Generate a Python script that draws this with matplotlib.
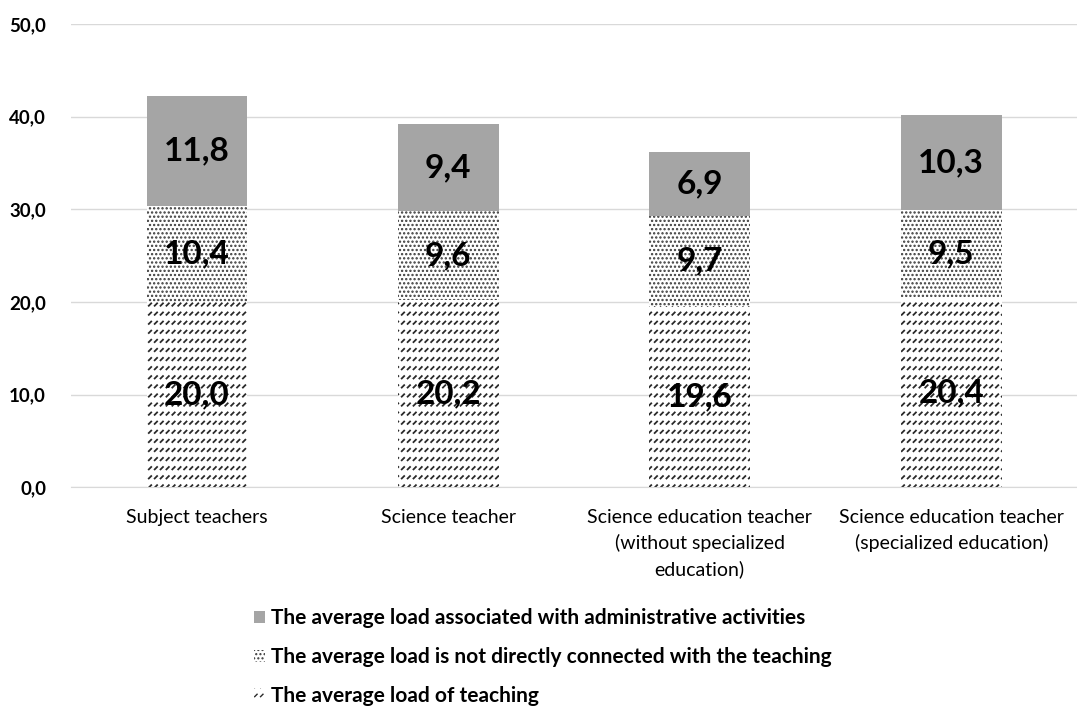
import matplotlib
matplotlib.use("Agg")
import matplotlib.pyplot as plt
import matplotlib.hatch as mhatch
from matplotlib.path import Path
import numpy as np
import warnings
warnings.filterwarnings("ignore")

plt.rcParams['font.family'] = ['Lato', 'DejaVu Sans']


class DashRowHatch(mhatch.HatchPatternBase):
    """Rows of short diagonal dashes (style only)."""
    def __init__(self, hatch, density):
        n = hatch.count('~')
        self.rows = 11 * n
        self.cols = 17 * n
        self.num_vertices = self.rows * self.cols * 2

    def set_vertices_and_codes(self, vertices, codes):
        ys = (np.arange(self.rows) + 0.5) / self.rows
        xs = (np.arange(self.cols) + 0.5) / self.cols
        gx, gy = np.meshgrid(xs, ys)
        gx = gx.ravel()
        gy = gy.ravel()
        d = 0.012
        vertices[0::2, 0] = gx - d
        vertices[0::2, 1] = gy - d
        vertices[1::2, 0] = gx + d
        vertices[1::2, 1] = gy + d
        codes[0::2] = Path.MOVETO
        codes[1::2] = Path.LINETO


mhatch._hatch_types.append(DashRowHatch)

categories = ["Subject teachers", "Science teacher",
              "Science education teacher\n(without specialized\neducation)",
              "Science education teacher\n(specialized education)"]
teaching = [20.0, 20.2, 19.6, 20.4]
not_direct = [10.4, 9.6, 9.7, 9.5]
admin = [11.8, 9.4, 6.9, 10.3]
yticks = [0, 10, 20, 30, 40, 50]
legend_labels = ["The average load associated with administrative activities",
                 "The average load is not directly connected with the teaching",
                 "The average load of teaching"]

fig = plt.figure(figsize=(10.77, 7.06), dpi=100)
ax = fig.add_axes([0.066, 0.31, 0.934, 0.656])

x = np.arange(len(categories))
w = 0.4
with plt.rc_context({'hatch.linewidth': 1.3}):
    b1 = ax.bar(x, teaching, w, color='white', edgecolor='#2a2a2a', hatch='~',
                linewidth=0, zorder=2)
with plt.rc_context({'hatch.linewidth': 1.1}):
    b2 = ax.bar(x, not_direct, w, bottom=teaching, color='white', edgecolor='#3a3a3a',
                hatch='....', linewidth=0, zorder=2)
bottom3 = np.array(teaching) + np.array(not_direct)
b3 = ax.bar(x, admin, w, bottom=bottom3, color='#A5A5A5', edgecolor='#A5A5A5',
            linewidth=0, zorder=2)


def fmt(v):
    return f"{v:.1f}".replace('.', ',')


for vals, bots in [(teaching, [0] * 4), (not_direct, teaching), (admin, bottom3)]:
    for i, (v, b) in enumerate(zip(vals, bots)):
        ax.text(x[i], b + v / 2, fmt(v), ha='center', va='center', fontsize=24,
                fontweight='bold', color='black', zorder=3)

ax.set_ylim(0, 50)
ax.set_xlim(-0.5, 3.5)
ax.set_yticks(yticks)
ax.set_yticklabels([fmt(t) for t in yticks], fontsize=13.5, fontweight='bold')
ax.set_xticks(x)
ax.set_xticklabels(categories, fontsize=14, linespacing=1.52)
ax.tick_params(axis='x', length=0, pad=16)
ax.tick_params(axis='y', length=0, pad=18)
ax.yaxis.grid(True, color='#D9D9D9', linewidth=1, zorder=0)
for s in ['top', 'right', 'left']:
    ax.spines[s].set_visible(False)
ax.spines['bottom'].set_color('#D9D9D9')

handles = [b3[0], b2[0], b1[0]]
leg = fig.legend(handles, legend_labels, loc='upper left', bbox_to_anchor=(0.228, 0.150),
                 frameon=False, prop={'weight': 'bold', 'size': 15},
                 handlelength=0.55, handleheight=0.55, handletextpad=0.25, labelspacing=0.9,
                 borderaxespad=0)
fig.savefig("out.png", dpi=100)
